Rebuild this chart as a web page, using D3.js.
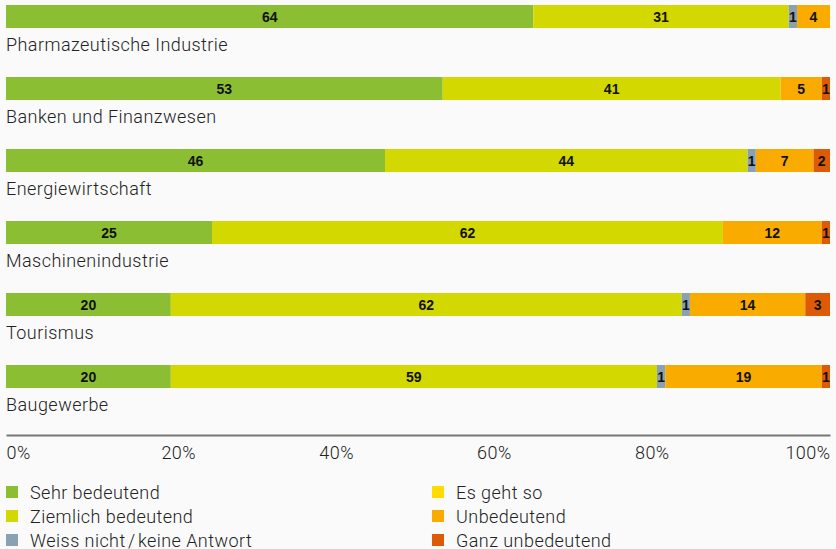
<!DOCTYPE html>
<html>
<head>
<meta charset="utf-8">
<script src="https://cdn.jsdelivr.net/npm/d3@7"></script>
<style>
  body { margin: 0; background: #fafafa; }
  text { font-family: "Liberation Sans", Arial, sans-serif; }
  .cat, .tick text, .leg text { font-family: Roboto, "Liberation Sans", sans-serif; font-weight: 300; fill: #222; letter-spacing: 0.45px; }
</style>
</head>
<body>
<div id="chart"></div>
<script>
var categories = ["Pharmazeutische Industrie", "Banken und Finanzwesen", "Energiewirtschaft",
    "Maschinenindustrie", "Tourismus", "Baugewerbe"];
var seriesNames = ["Sehr bedeutend", "Ziemlich bedeutend", "Weiss nicht\u200a/\u200akeine Antwort",
    "Es geht so", "Unbedeutend", "Ganz unbedeutend"];
var sehr = [64, 53, 46, 25, 20, 20];
var ziemlich = [31, 41, 44, 62, 62, 59];
var weissNicht = [1, 0, 1, 0, 1, 1];
var esGehtSo = [0, 0, 0, 0, 0, 0];
var unbedeutend = [4, 5, 7, 12, 14, 19];
var ganz = [0, 1, 2, 1, 3, 1];
var tickLabels = ["0%", "20%", "40%", "60%", "80%", "100%"];

var colors = ["#8cbe34", "#d3d800", "#8aa1b4", "#ffdc00", "#f9ab00", "#dd5b07"];
var series = [sehr, ziemlich, weissNicht, esGehtSo, unbedeutend, ganz];

var width = 836, height = 549;
var margin = { left: 6, right: 6 };

var rows = categories.map(function (c, i) {
    var r = { cat: c };
    series.forEach(function (s, k) { r["s" + k] = s[i]; });
    return r;
});
var keys = series.map(function (s, k) { return "s" + k; });
var stacked = d3.stack().keys(keys)(rows);

var x = d3.scaleLinear().domain([0, 100]).range([margin.left, width - margin.right]);
var y = d3.scaleBand().domain(categories).range([5, 437]).paddingInner(0);
var barH = 23;

var svg = d3.select("#chart").append("svg")
    .attr("width", width)
    .attr("height", height);

var layer = svg.selectAll(".layer")
    .data(stacked)
    .enter().append("g")
    .attr("class", "layer")
    .style("fill", function (d, i) { return colors[i]; });

layer.selectAll("rect")
    .data(function (d) { return d.filter(function (e) { return e[1] - e[0] > 0; }); })
    .enter().append("rect")
    .attr("x", function (d) { return x(d[0]); })
    .attr("y", function (d) { return y(d.data.cat); })
    .attr("width", function (d) { return x(d[1]) - x(d[0]); })
    .attr("height", barH);

layer.selectAll(".val")
    .data(function (d) { return d.filter(function (e) { return e[1] - e[0] > 0; }); })
    .enter().append("text")
    .attr("class", "val")
    .attr("x", function (d) { return (x(d[0]) + x(d[1])) / 2; })
    .attr("y", function (d) { return y(d.data.cat) + barH / 2 + 5; })
    .attr("text-anchor", "middle")
    .style("font-size", "14px")
    .style("font-weight", "bold")
    .style("fill", "#111")
    .text(function (d) { return d[1] - d[0]; });

// category labels under each bar
svg.selectAll(".cat")
    .data(categories)
    .enter().append("text")
    .attr("class", "cat")
    .attr("x", margin.left)
    .attr("y", function (d) { return y(d) + 45.5; })
    .style("font-size", "18px")
    .text(function (d) { return d; });

// axis
var axis = d3.axisBottom(x)
    .tickValues([0, 20, 40, 60, 80, 100])
    .tickSize(0)
    .tickPadding(0)
    .tickFormat(function (d, i) { return tickLabels[i]; });

var ax = svg.append("g")
    .attr("transform", "translate(0,435)")
    .call(axis);
ax.select(".domain").attr("stroke", "#777").attr("stroke-width", 2);
ax.selectAll(".tick text")
    .style("font-size", "18px")
    .attr("y", 24)
    .attr("dy", 0)
    .attr("text-anchor", "start")
    .attr("dx", function (d, i) {
        var w = this.getComputedTextLength();
        return -w * i / 5 - (i > 0 && i < 5 ? 3 : 0);
    });

// legend
var legPos = [[6, 492], [6, 516], [6, 540], [432, 492], [432, 516], [432, 540]];
var leg = svg.selectAll(".leg")
    .data(seriesNames)
    .enter().append("g")
    .attr("class", "leg")
    .attr("transform", function (d, i) { return "translate(" + legPos[i][0] + "," + legPos[i][1] + ")"; });
leg.append("rect")
    .attr("x", 0).attr("y", -6)
    .attr("width", 12).attr("height", 12)
    .style("fill", function (d, i) { return colors[i]; });
leg.append("text")
    .attr("x", 24)
    .attr("y", 6.5)
    .style("font-size", "18px")
    .text(function (d) { return d; });
</script>
</body>
</html>
